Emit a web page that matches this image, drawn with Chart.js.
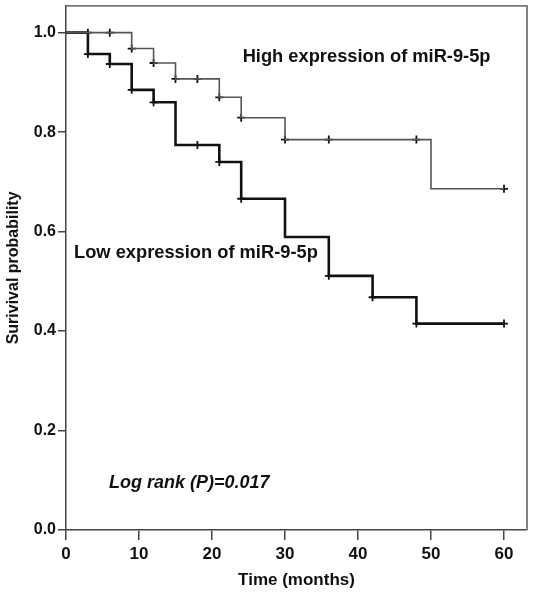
<!DOCTYPE html>
<html>
<head>
<meta charset="utf-8">
<script src="https://cdn.jsdelivr.net/npm/chart.js@4/dist/chart.umd.min.js"></script>
<style>
  html, body { margin: 0; padding: 0; background: #fff; }
  #wrap { width: 534px; height: 596px; }
</style>
</head>
<body>
<div id="wrap"><canvas id="km"></canvas></div>
<script>
// survival curves (months -> probability)
const highTimes = [0, 9, 12, 15, 21, 24, 30, 50, 60];
const highSurvival = [1.0, 0.968, 0.939, 0.907, 0.870, 0.829, 0.785, 0.686, 0.686];
const highCensorTimes = [3, 6, 9, 12, 15, 18, 21, 24, 30, 36, 48, 60];

const lowTimes = [0, 3, 6, 9, 12, 15, 21, 24, 30, 36, 42, 48, 60];
const lowSurvival = [1.0, 0.957, 0.937, 0.885, 0.860, 0.774, 0.740, 0.666, 0.589, 0.511, 0.468, 0.415, 0.415];
const lowCensorTimes = [3, 6, 9, 12, 18, 21, 24, 36, 42, 48, 60];

const xTicks = [0, 10, 20, 30, 40, 50, 60];
const yTicks = [0, 0.2, 0.4, 0.6, 0.8, 1.0];

const highLabel = "High expression of miR-9-5p";
const lowLabel = "Low expression of miR-9-5p";
const pLabel = "Log rank (P)=0.017";

const fontFamily = "'Liberation Sans', Arial, sans-serif";

// helpers
const toPoints = (times, values) => times.map((t, i) => ({ x: t, y: values[i] }));

// survival value at time t, taken from the step curve
const survivalAt = (times, values, t) => {
  let s = values[0];
  for (let i = 0; i < times.length; i++) {
    if (times[i] <= t) s = values[i];
  }
  return s;
};

const censorPoints = (censorTimes, times, values) =>
  censorTimes.map((t) => ({ x: t, y: survivalAt(times, values, t) }));

// frame + text inside the plot
const notes = {
  id: "notes",
  afterDatasetsDraw(chart) {
    const { ctx, chartArea: a, scales } = chart;
    const x = scales.x;
    const y = scales.y;
    ctx.save();
    ctx.strokeStyle = "#777";
    ctx.lineWidth = 1.8;
    ctx.beginPath();
    ctx.moveTo(a.left, a.top);
    ctx.lineTo(a.right, a.top);
    ctx.lineTo(a.right, a.bottom);
    ctx.stroke();

    ctx.fillStyle = "#111";
    ctx.textBaseline = "alphabetic";
    ctx.font = "bold 18.3px " + fontFamily;
    ctx.fillText(highLabel, x.getPixelForValue(24.2), y.getPixelForValue(0.94));
    ctx.fillText(lowLabel, x.getPixelForValue(1.1), y.getPixelForValue(0.546));
    ctx.font = "italic bold 18px " + fontFamily;
    ctx.fillText(pLabel, x.getPixelForValue(5.9), y.getPixelForValue(0.084));
    ctx.restore();
  },
};

const ctx = document.querySelector("#km").getContext("2d");

new Chart(ctx, {
  type: "scatter",
  data: {
    datasets: [
      {
        data: toPoints(highTimes, highSurvival),
        showLine: true,
        stepped: true,
        borderColor: "#555",
        borderWidth: 1.6,
        pointRadius: 0,
      },
      {
        data: toPoints(lowTimes, lowSurvival),
        showLine: true,
        stepped: true,
        borderColor: "#111",
        borderWidth: 2.6,
        pointRadius: 0,
      },
      {
        data: censorPoints(highCensorTimes, highTimes, highSurvival),
        showLine: false,
        pointStyle: "cross",
        pointRadius: 4,
        borderColor: "#111",
        borderWidth: 1.8,
      },
      {
        data: censorPoints(lowCensorTimes, lowTimes, lowSurvival),
        showLine: false,
        pointStyle: "cross",
        pointRadius: 4,
        borderColor: "#111",
        borderWidth: 1.8,
      },
    ],
  },
  options: {
    responsive: true,
    maintainAspectRatio: false,
    animation: false,
    layout: { padding: { top: 5, right: 7, left: 0, bottom: 0 } },
    plugins: {
      legend: { display: false },
      tooltip: { enabled: false },
    },
    scales: {
      x: {
        type: "linear",
        min: 0,
        max: 63.15,
        afterBuildTicks: (s) => {
          s.ticks = xTicks.map((v) => ({ value: v }));
        },
        afterFit: (s) => {
          s.height = 66;
          s.paddingLeft = 0;
          s.paddingRight = 0;
        },
        grid: { drawOnChartArea: false, tickLength: 10, color: "#444", lineWidth: 1.5 },
        border: { color: "#444", width: 1.5 },
        ticks: {
          color: "#111",
          padding: 4,
          maxRotation: 0,
          font: { family: fontFamily, size: 17, weight: "bold" },
        },
        title: {
          display: true,
          text: "Time (months)",
          color: "#111",
          font: { family: fontFamily, size: 17, weight: "bold" },
          padding: { top: 0, bottom: 5 },
        },
      },
      y: {
        type: "linear",
        min: 0,
        max: 1.054,
        afterBuildTicks: (s) => {
          s.ticks = yTicks.map((v) => ({ value: v }));
        },
        afterFit: (s) => {
          s.width = 66;
          s.paddingTop = 0;
          s.paddingBottom = 0;
        },
        grid: { drawOnChartArea: false, tickLength: 8, color: "#444", lineWidth: 1.5 },
        border: { color: "#444", width: 1.5 },
        ticks: {
          color: "#111",
          padding: 2,
          font: { family: fontFamily, size: 16, weight: "bold" },
          callback: (v) => v.toFixed(1),
        },
        title: {
          display: true,
          text: "Surivival probability",
          color: "#111",
          font: { family: fontFamily, size: 16, weight: "bold" },
          padding: { top: 4, bottom: 0 },
        },
      },
    },
  },
  plugins: [notes],
});
</script>
</body>
</html>
